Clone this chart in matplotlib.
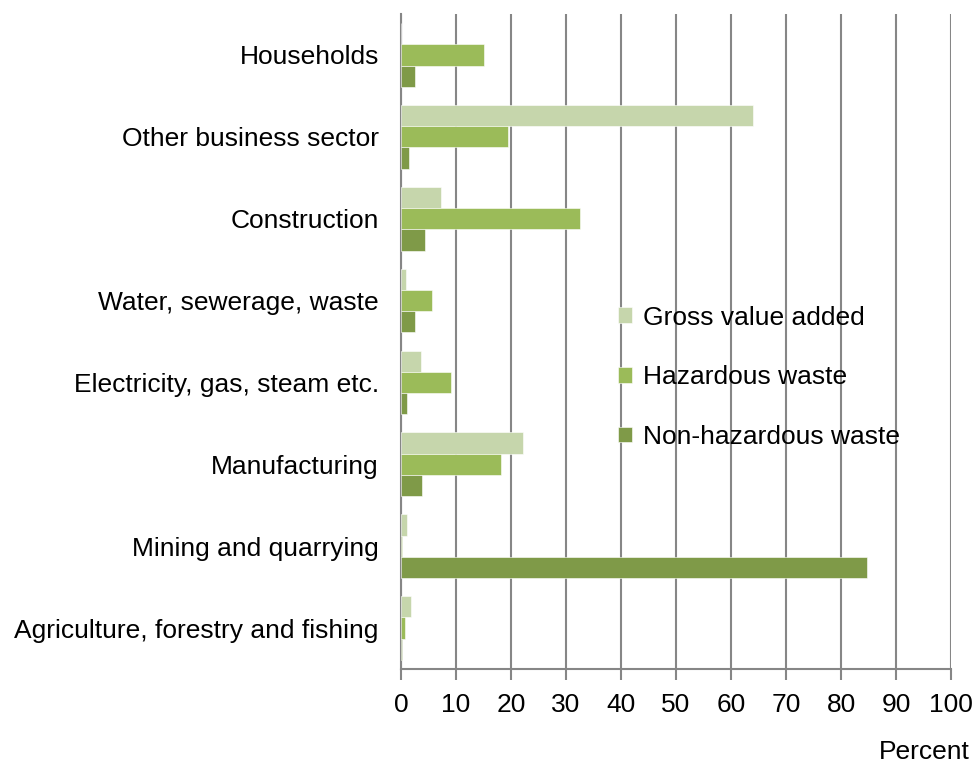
import numpy as np
import matplotlib
matplotlib.use("Agg")
import matplotlib.pyplot as plt

plt.rcParams['font.family'] = ['Liberation Sans', 'DejaVu Sans']

categories = ["Households", "Other business sector", "Construction",
              "Water, sewerage, waste", "Electricity, gas, steam etc.",
              "Manufacturing", "Mining and quarrying",
              "Agriculture, forestry and fishing"]
gross_value_added = [0.0, 64.0, 7.2, 0.9, 3.6, 22.2, 1.0, 1.9]
hazardous = [15.1, 19.5, 32.6, 5.6, 9.0, 18.1, 0.2, 0.8]
non_hazardous = [2.5, 1.5, 4.4, 2.5, 1.1, 3.8, 84.7, 0.2]

series = [("Gross value added", gross_value_added, "#c6d6ac"),
          ("Hazardous waste", hazardous, "#9bbb59"),
          ("Non-hazardous waste", non_hazardous, "#7f9a48")]

fig = plt.figure(figsize=(9.77, 7.67), dpi=100)
ax = fig.add_axes([401 / 977, 1 - 669 / 767, 550 / 977, 655 / 767])

n = len(categories)
y = np.arange(n)[::-1]
h = 0.26
offsets = [h, 0, -h]
for (label, vals, col), off in zip(series, offsets):
    ax.barh(y + off, vals, height=h, color=col, edgecolor="white",
            linewidth=0.4, label=label, zorder=3)

fs = 19
ax.set_xlim(0, 100)
ax.set_ylim(-0.5, n - 0.5)
ax.set_xticks(np.arange(0, 101, 10))
ax.set_yticks(y)
ax.set_yticklabels(categories)
ax.tick_params(axis="y", length=0, pad=16, labelsize=fs)
ax.tick_params(axis="x", length=8, width=1.5, color="#868686",
               direction="out", pad=9, labelsize=fs)
ax.xaxis.grid(True, color="#868686", linewidth=1.5, zorder=0)

for s in ["top", "right"]:
    ax.spines[s].set_visible(False)
for s in ["left", "bottom"]:
    ax.spines[s].set_color("#868686")
    ax.spines[s].set_linewidth(1.5)

ax.legend(loc="upper left", bbox_to_anchor=(607 / 977, 1 - 295 / 767),
          bbox_transform=fig.transFigure, frameon=False, fontsize=fs,
          handlelength=0.55, handleheight=0.55, handletextpad=0.4,
          labelspacing=1.35, borderaxespad=0)

fig.text(970 / 977, 1 - 752 / 767, "Percent", ha="right", va="center",
         fontsize=fs)

fig.savefig("out.png", dpi=100)
